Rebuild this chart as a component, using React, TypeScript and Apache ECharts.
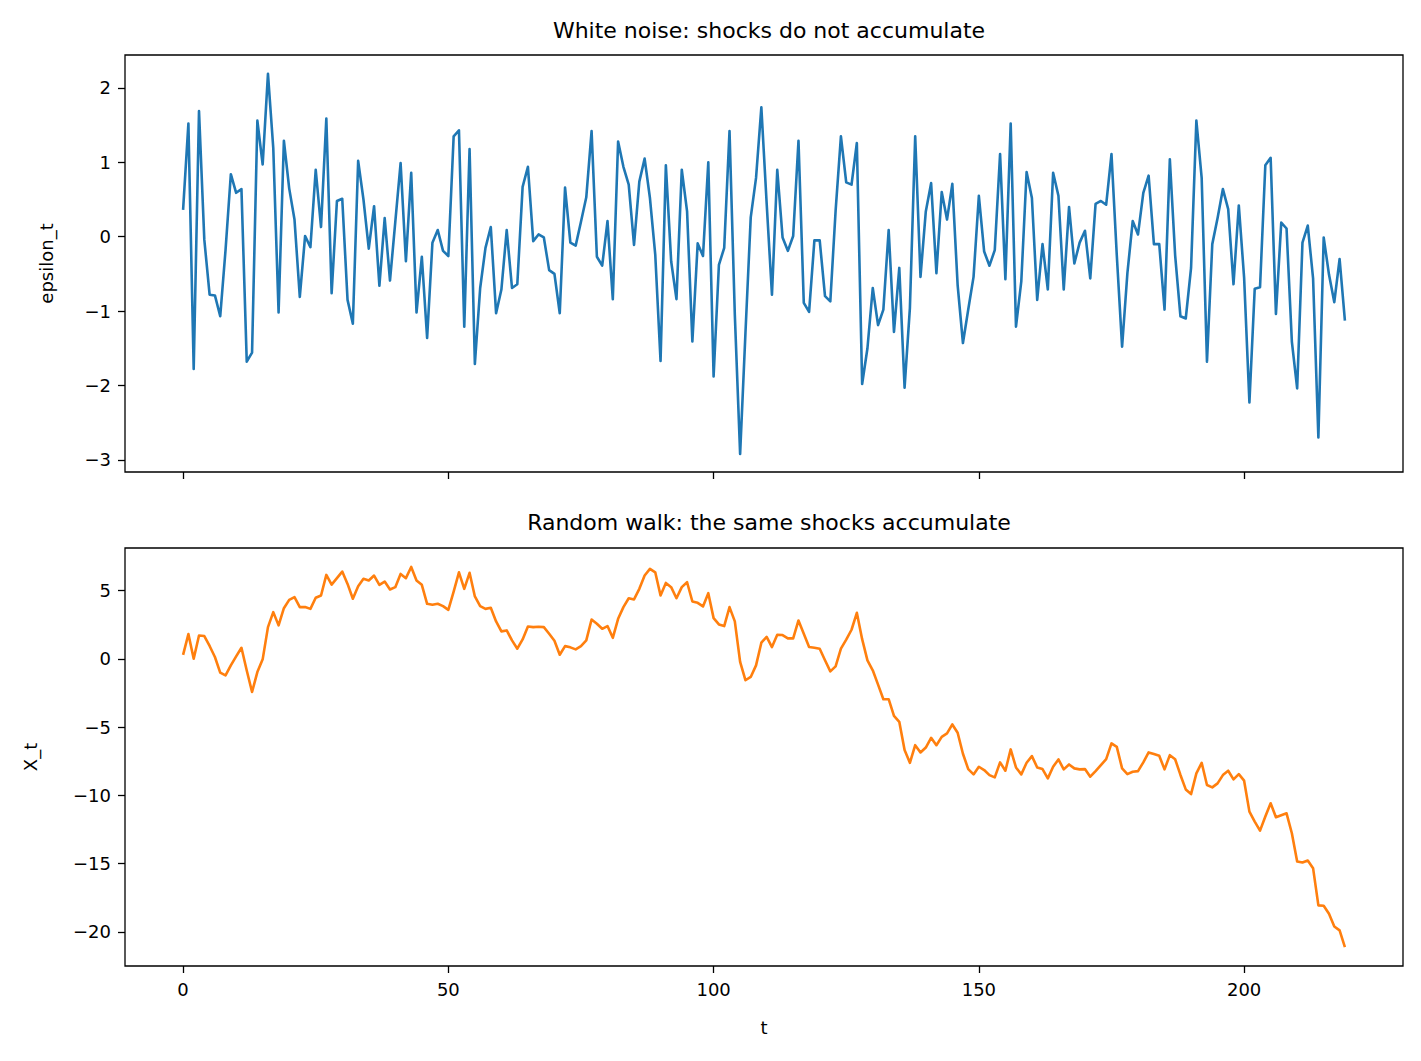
import { useEffect, useRef } from "react";
import * as echarts from "echarts";

// shocks epsilon_t, t = 0..219
const EPSILON = [
  0.36, 1.52, -1.78, 1.69, -0.04, -0.78, -0.79, -1.07, -0.18, 0.84,
  0.59, 0.64, -1.68, -1.56, 1.56, 0.97, 2.19, 1.19, -1.02, 1.29,
  0.65, 0.23, -0.81, 0.01, -0.14, 0.9, 0.13, 1.59, -0.76, 0.48,
  0.51, -0.85, -1.17, 1.02, 0.5, -0.16, 0.41, -0.66, 0.25, -0.59,
  0.2, 0.99, -0.33, 0.86, -1.02, -0.27, -1.36, -0.08, 0.09, -0.19,
  -0.26, 1.35, 1.43, -1.21, 1.18, -1.71, -0.69, -0.15, 0.13, -1.03,
  -0.71, 0.09, -0.69, -0.64, 0.67, 0.94, -0.06, 0.03, -0.01, -0.45,
  -0.5, -1.03, 0.66, -0.08, -0.12, 0.2, 0.53, 1.42, -0.27, -0.39,
  0.21, -0.84, 1.28, 0.94, 0.7, -0.11, 0.74, 1.05, 0.52, -0.24,
  -1.67, 0.96, -0.33, -0.84, 0.9, 0.34, -1.41, -0.09, -0.26, 1.0,
  -1.88, -0.38, -0.15, 1.42, -1.05, -2.92, -1.3, 0.26, 0.79, 1.74,
  0.45, -0.78, 0.9, -0.01, -0.19, 0.01, 1.29, -0.89, -1.01, -0.05,
  -0.05, -0.8, -0.87, 0.35, 1.35, 0.73, 0.7, 1.26, -1.98, -1.5,
  -0.69, -1.19, -0.98, 0.09, -1.28, -0.42, -2.03, -0.96, 1.35, -0.54,
  0.34, 0.72, -0.49, 0.6, 0.23, 0.71, -0.65, -1.43, -0.98, -0.54,
  0.55, -0.2, -0.39, -0.18, 1.11, -0.57, 1.52, -1.21, -0.6, 0.87,
  0.52, -0.85, -0.1, -0.71, 0.86, 0.55, -0.71, 0.4, -0.36, -0.08,
  0.08, -0.56, 0.44, 0.48, 0.43, 1.11, -0.25, -1.48, -0.49, 0.21,
  0.03, 0.59, 0.82, -0.1, -0.1, -0.98, 1.04, -0.25, -1.07, -1.1,
  -0.42, 1.56, 0.79, -1.68, -0.1, 0.25, 0.64, 0.37, -0.64, 0.42,
  -0.55, -2.23, -0.7, -0.68, 0.96, 1.06, -1.04, 0.19, 0.11, -1.41,
  -2.04, -0.08, 0.15, -0.56, -2.7, -0.01, -0.51, -0.88, -0.3, -1.13,
];

// random walk X_t, t = 0..219
const WALK = [
  0.3, 1.82, 0.02, 1.72, 1.68, 0.95, 0.14, -1.0, -1.2, -0.47,
  0.19, 0.82, -0.85, -2.42, -0.96, -0.03, 2.33, 3.43, 2.46, 3.72,
  4.33, 4.53, 3.8, 3.8, 3.67, 4.48, 4.65, 6.16, 5.45, 5.92,
  6.4, 5.5, 4.41, 5.33, 5.87, 5.75, 6.11, 5.43, 5.67, 5.09,
  5.26, 6.23, 5.92, 6.74, 5.75, 5.43, 4.04, 3.97, 4.04, 3.87,
  3.6, 4.94, 6.35, 5.14, 6.31, 4.58, 3.87, 3.67, 3.75, 2.75,
  2.02, 2.09, 1.36, 0.75, 1.43, 2.38, 2.33, 2.36, 2.33, 1.85,
  1.33, 0.31, 0.94, 0.85, 0.7, 0.94, 1.36, 2.89, 2.58, 2.21,
  2.41, 1.55, 2.94, 3.8, 4.45, 4.36, 5.14, 6.11, 6.6, 6.35,
  4.65, 5.57, 5.26, 4.45, 5.26, 5.62, 4.21, 4.11, 3.85, 4.82,
  2.99, 2.53, 2.41, 3.8, 2.75, -0.22, -1.56, -1.32, -0.47, 1.19,
  1.62, 0.87, 1.77, 1.75, 1.51, 1.51, 2.82, 1.85, 0.87, 0.82,
  0.75, -0.1, -0.91, -0.54, 0.75, 1.41, 2.14, 3.38, 1.45, -0.1,
  -0.83, -1.88, -2.95, -2.95, -4.17, -4.61, -6.68, -7.61, -6.32, -6.85,
  -6.49, -5.78, -6.32, -5.71, -5.46, -4.8, -5.41, -6.95, -8.07, -8.46,
  -7.9, -8.14, -8.51, -8.68, -7.58, -8.19, -6.63, -7.95, -8.46, -7.61,
  -7.12, -7.95, -8.07, -8.75, -7.9, -7.36, -8.09, -7.73, -8.02, -8.09,
  -8.07, -8.63, -8.22, -7.78, -7.34, -6.19, -6.44, -8.02, -8.44, -8.27,
  -8.22, -7.58, -6.85, -6.97, -7.1, -8.09, -7.05, -7.35, -8.5, -9.56,
  -9.9, -8.39, -7.61, -9.24, -9.41, -9.12, -8.51, -8.19, -8.83, -8.44,
  -8.92, -11.19, -11.92, -12.58, -11.55, -10.58, -11.6, -11.45, -11.31, -12.77,
  -14.84, -14.92, -14.77, -15.33, -18.06, -18.08, -18.67, -19.6, -19.89, -21.11,
];

const T_TICKS = [0, 50, 100, 150, 200];
const EPS_TICKS = [-3, -2, -1, 0, 1, 2];
const WALK_TICKS = [-20, -15, -10, -5, 0, 5];

const FONT = "DejaVu Sans";
const fmt = (v: number) => (v < 0 ? "\u2212" + Math.abs(v) : String(v));

const tick = (values: number[]) => ({
  show: true,
  inside: false,
  length: 7,
  customValues: values,
  lineStyle: { color: "#000", width: 1.3 },
});

const label = (values: number[]) => ({
  show: true,
  customValues: values,
  margin: 14,
  fontSize: 18,
  fontFamily: FONT,
  color: "#000",
  formatter: fmt,
});

const noLine = { show: false, onZero: false };
const box = { show: true, borderColor: "#000", borderWidth: 1.3, backgroundColor: "#fff" };
const nameStyle = { fontSize: 18, color: "#000", fontFamily: FONT };
const titleStyle = { fontSize: 22, fontWeight: "normal", color: "#000", fontFamily: FONT };

export default function App() {
  const chartRef = useRef<HTMLDivElement>(null);

  useEffect(() => {
    if (!chartRef.current) return;
    const chart = echarts.init(chartRef.current, null, { renderer: "svg" });

    const option = {
      animation: false,
      backgroundColor: "#fff",
      textStyle: { fontFamily: FONT },
      title: [
        {
          text: "White noise: shocks do not accumulate",
          left: 764,
          top: 14,
          textAlign: "center",
          textStyle: titleStyle,
        },
        {
          text: "Random walk: the same shocks accumulate",
          left: 764,
          top: 506,
          textAlign: "center",
          textStyle: titleStyle,
        },
      ],
      grid: [
        { left: 125, top: 55, width: 1278, height: 417, ...box },
        { left: 125, top: 548, width: 1278, height: 418, ...box },
      ],
      xAxis: [
        {
          gridIndex: 0,
          type: "value",
          min: -10.95,
          max: 229.95,
          splitLine: { show: false },
          axisLine: noLine,
          axisTick: tick(T_TICKS),
          axisLabel: { show: false },
        },
        {
          gridIndex: 1,
          type: "value",
          min: -10.95,
          max: 229.95,
          splitLine: { show: false },
          axisLine: noLine,
          axisTick: tick(T_TICKS),
          axisLabel: label(T_TICKS),
          name: "t",
          nameLocation: "middle",
          nameGap: 52,
          nameTextStyle: nameStyle,
        },
      ],
      yAxis: [
        {
          gridIndex: 0,
          type: "value",
          min: -3.164,
          max: 2.443,
          splitLine: { show: false },
          axisLine: noLine,
          axisTick: tick(EPS_TICKS),
          axisLabel: label(EPS_TICKS),
          name: "epsilon_t",
          nameLocation: "middle",
          nameRotate: 90,
          nameGap: 70,
          nameTextStyle: nameStyle,
        },
        {
          gridIndex: 1,
          type: "value",
          min: -22.5,
          max: 8.13,
          splitLine: { show: false },
          axisLine: noLine,
          axisTick: tick(WALK_TICKS),
          axisLabel: label(WALK_TICKS),
          name: "X_t",
          nameLocation: "middle",
          nameRotate: 90,
          nameGap: 86,
          nameTextStyle: nameStyle,
        },
      ],
      series: [
        {
          name: "epsilon_t",
          type: "line",
          xAxisIndex: 0,
          yAxisIndex: 0,
          data: EPSILON.map((v, i) => [i, v]),
          showSymbol: false,
          lineStyle: { color: "#1f77b4", width: 2.6, join: "round" },
          itemStyle: { color: "#1f77b4" },
        },
        {
          name: "X_t",
          type: "line",
          xAxisIndex: 1,
          yAxisIndex: 1,
          data: WALK.map((v, i) => [i, v]),
          showSymbol: false,
          lineStyle: { color: "#ff7f0e", width: 2.6, join: "round" },
          itemStyle: { color: "#ff7f0e" },
        },
      ],
    };

    chart.setOption(option);
    return () => chart.dispose();
  }, []);

  return (
    <div
      ref={chartRef}
      style={{ position: "absolute", left: 0, top: 0, width: 1421, height: 1061 }}
    />
  );
}
